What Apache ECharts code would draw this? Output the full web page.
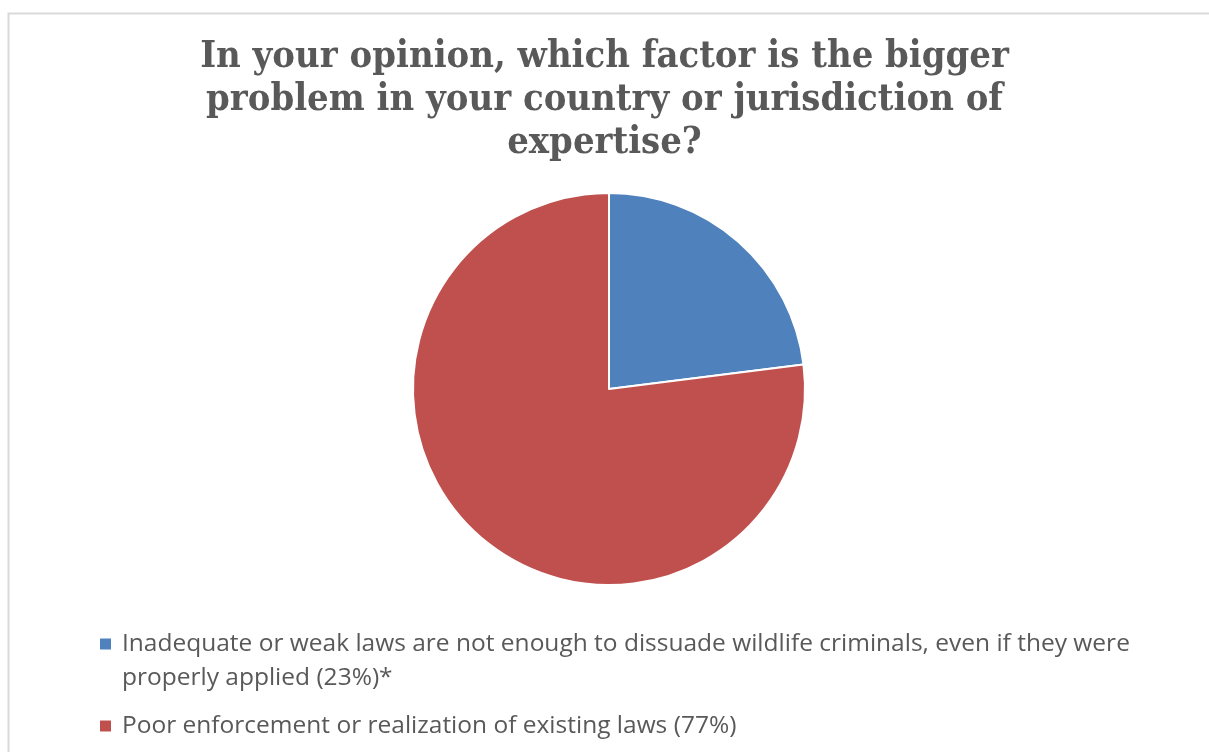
<!DOCTYPE html>
<html>
<head>
<meta charset="utf-8">
<script src="https://cdn.jsdelivr.net/npm/echarts@6/dist/echarts.min.js"></script>
<style>html,body{margin:0;padding:0;background:#fff}#c{width:1209px;height:752px}</style>
</head>
<body>
<div id="c"></div>
<script>
const titleText = "In your opinion, which factor is the bigger\nproblem in your country or jurisdiction of\nexpertise?";
const categories = [
  "Inadequate or weak laws are not enough to dissuade wildlife criminals, even if they were properly applied (23%)*",
  "Poor enforcement or realization of existing laws (77%)"
];
const values = [23, 77];
const colors = ["#4f81bd", "#c0504d"];

const chart = echarts.init(document.getElementById('c'), null, {renderer: 'canvas'});
chart.setOption({
  animation: false,
  backgroundColor: '#ffffff',
  graphic: [{
    type: 'rect', left: 6, top: 11,
    shape: {width: 1300, height: 800},
    style: {fill: 'none', stroke: '#d9d9d9', lineWidth: 2},
    silent: true
  }],
  title: {
    text: titleText,
    left: 'center',
    top: 31,
    textStyle: {
      fontFamily: 'DejaVu Serif Condensed',
      fontWeight: 'bold',
      fontSize: 37.8,
      lineHeight: 43,
      color: '#595959'
    }
  },
  legend: {
    orient: 'vertical',
    left: 100,
    top: 593,
    padding: 0,
    icon: 'rect',
    itemWidth: 11,
    itemHeight: 11,
    itemGap: 14,
    itemStyle: {borderWidth: 0},
    selectedMode: false,
    formatter: function (name) {
      return name === categories[0] ? '{e| }\n' + name : name;
    },
    textStyle: {
      fontFamily: 'Open Sans',
      fontSize: 24.5,
      lineHeight: 34,
      color: '#595959',
      padding: [0, 0, 0, 6],
      rich: {e: {fontSize: 24.5, lineHeight: 34}}
    },
    data: [
      {name: categories[0], textStyle: {width: 1050, overflow: 'break'}},
      {name: categories[1]}
    ]
  },
  series: [{
    type: 'pie',
    center: [609, 389],
    radius: 196,
    startAngle: 90,
    clockwise: true,
    label: {show: false},
    labelLine: {show: false},
    emphasis: {disabled: true},
    itemStyle: {borderColor: '#ffffff', borderWidth: 2},
    data: categories.map((n, i) => ({name: n, value: values[i], itemStyle: {color: colors[i]}}))
  }]
});
</script>
</body>
</html>
